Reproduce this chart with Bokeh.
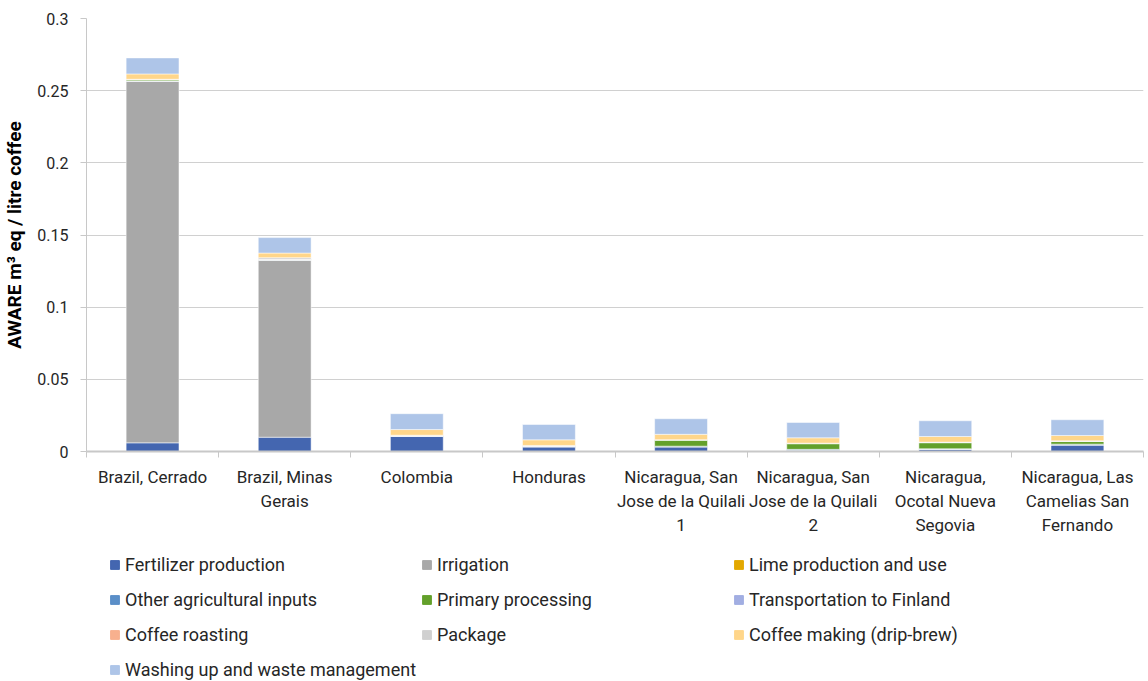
from bokeh.plotting import figure
from bokeh.layouts import column
from bokeh.models import (ColumnDataSource, FixedTicker, Legend, LegendItem,
                          Range1d)
from bokeh.embed import file_html
from bokeh.resources import INLINE

categories = ["Brazil, Cerrado", "Brazil, Minas\nGerais", "Colombia", "Honduras",
              "Nicaragua, San\nJose de la Quilali\n1",
              "Nicaragua, San\nJose de la Quilali\n2",
              "Nicaragua,\nOcotal Nueva\nSegovia",
              "Nicaragua, Las\nCamelias San\nFernando"]

series_names = ["Fertilizer production", "Irrigation", "Lime production and use",
                "Other agricultural inputs", "Primary processing",
                "Transportation to Finland", "Coffee roasting", "Package",
                "Coffee making (drip-brew)", "Washing up and waste management"]

fertilizer = [0.0060, 0.0099, 0.0104, 0.0033, 0.0033, 0.0009, 0.0015, 0.0046]
irrigation = [0.2504, 0.1225, 0.0, 0.0, 0.0, 0.0, 0.0, 0.0]
lime = [0.0001, 0.0001, 0.0, 0.0, 0.0, 0.0, 0.0, 0.0]
other_agri = [0.0002, 0.0002, 0.0004, 0.0004, 0.0004, 0.0006, 0.0004, 0.0005]
primary = [0.0008, 0.0003, 0.0, 0.0, 0.0042, 0.0039, 0.0042, 0.0018]
transport = [0.0001, 0.0001, 0.0001, 0.0001, 0.0001, 0.0001, 0.0001, 0.0001]
roasting = [0.0001, 0.0001, 0.0001, 0.0001, 0.0001, 0.0001, 0.0001, 0.0001]
package = [0.0002, 0.0011, 0.0003, 0.0003, 0.0001, 0.0002, 0.0002, 0.0003]
coffee_making = [0.0037, 0.0032, 0.0039, 0.0039, 0.0037, 0.0037, 0.0039, 0.0037]
washing = [0.0111, 0.0107, 0.0110, 0.0106, 0.0108, 0.0106, 0.0109, 0.0109]

colors = ["#4466B0", "#A8A8A8", "#E3A800", "#5B8FC8", "#63A02B",
          "#A2AEE2", "#F8B08E", "#D0D0D0", "#FFD68A", "#AEC5E8"]

y_ticks = [0, 0.05, 0.1, 0.15, 0.2, 0.25, 0.3]
y_tick_labels = ["0", "0.05", "0.1", "0.15", "0.2", "0.25", "0.3"]

FONT = "Roboto"

series = [fertilizer, irrigation, lime, other_agri, primary, transport,
          roasting, package, coffee_making, washing]
keys = ["s%d" % i for i in range(len(series))]
x = list(range(1, len(categories) + 1))
data = {"x": x}
for k, s in zip(keys, series):
    data[k] = s
source = ColumnDataSource(data)

p = figure(width=1148, height=545, output_backend="svg",
           toolbar_location=None, x_range=Range1d(0.5, len(categories) + 0.5),
           y_range=Range1d(0, 0.3), min_border_left=26, min_border_top=18,
           min_border_right=5, min_border_bottom=94)

renderers = p.vbar_stack(keys, x="x", width=0.4, source=source, color=colors,
                         line_color="white", line_width=0.5)

# axes
p.xaxis.ticker = FixedTicker(ticks=x, minor_ticks=[i + 0.5 for i in range(len(categories) + 1)])
p.xaxis.major_label_overrides = {i + 1: c for i, c in enumerate(categories)}
p.xaxis.major_tick_line_color = None
p.xaxis.minor_tick_out = 6
p.xaxis.minor_tick_in = 0
p.xaxis.minor_tick_line_color = "#C8C8C8"
p.xaxis.axis_line_color = "#C8C8C8"
p.xaxis.axis_line_width = 2
p.xaxis.major_label_text_font = FONT
p.xaxis.major_label_text_font_size = "17px"
p.xaxis.major_label_text_color = "#262626"
p.xaxis.major_label_standoff = 9

p.yaxis.ticker = FixedTicker(ticks=y_ticks, minor_ticks=[])
p.yaxis.major_label_overrides = {t: l for t, l in zip(y_ticks, y_tick_labels)}
p.yaxis.axis_line_color = "#C8C8C8"
p.yaxis.major_tick_line_color = "#C8C8C8"
p.yaxis.major_tick_out = 6
p.yaxis.major_tick_in = 0
p.yaxis.minor_tick_line_color = None
p.yaxis.major_label_text_font = FONT
p.yaxis.major_label_text_font_size = "16px"
p.yaxis.major_label_text_color = "#262626"
p.yaxis.major_label_standoff = 12
p.yaxis.axis_label = "AWARE m³ eq / litre coffee"
p.yaxis.axis_label_text_font = FONT
p.yaxis.axis_label_text_font_style = "bold"
p.yaxis.axis_label_text_font_size = "19px"
p.yaxis.axis_label_text_color = "#000000"
p.yaxis.axis_label_standoff = 8

p.xgrid.grid_line_color = None
p.ygrid.grid_line_color = "#D0D0D0"
p.ygrid.grid_line_width = 1
p.outline_line_color = None

# legend panel below the chart (its frame is aligned with the chart's frame)
lg = figure(width=1148, height=136, output_backend="svg", toolbar_location=None,
            x_range=Range1d(0, 1), y_range=Range1d(0, 1),
            x_axis_type=None, y_axis_type=None,
            min_border_left=0, min_border_right=0, min_border_top=0,
            min_border_bottom=0)
lg.grid.visible = False
lg.outline_line_color = None
nan = float("nan")
swatches = [lg.vbar(x=[nan], top=[nan], width=1, color=c) for c in colors]

items = [LegendItem(label=n, renderers=[r], index=0) for n, r in zip(series_names, swatches)]
legend = Legend(items=items, orientation="horizontal", ncols=3,
                location=(23, -4), margin=0, padding=0,
                glyph_width=11, glyph_height=11, label_standoff=5,
                label_height=31, label_width=292, spacing=4,
                label_text_font=FONT, label_text_font_size="18px",
                label_text_color="#262626", border_line_color=None,
                background_fill_alpha=0)
lg.add_layout(legend, "center")

layout = column(p, lg, spacing=0)
open("out.html", "w").write(file_html(layout, INLINE))
